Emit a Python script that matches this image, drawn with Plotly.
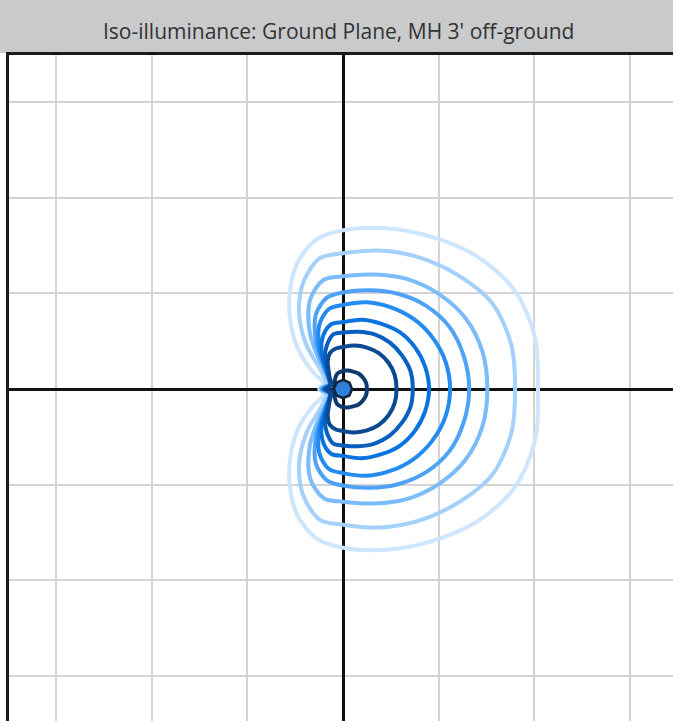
import numpy as np
import plotly.graph_objects as go

TITLE = "Iso-illuminance: Ground Plane, MH 3' off-ground"

# Polar sampling angles (degrees) for the upper half; lower half is the mirror image
ANGLES = [0, 15, 30, 45, 60, 75, 90, 100, 110, 120, 130, 140, 150, 160, 170, 180]
OCT_ANGLES = [0, 45, 90, 135, 180]

# Contour radii in feet (grid = 10 ft), outer -> inner
C10 = [20.4, 20.8, 20.7, 19.7, 18.4, 17.4, 16.6, 15.9, 14.0, 11.2, 8.4, 5.9, 3.7, 2.3, 2.1, 2.5]
C9 = [18.0, 18.2, 18.0, 16.9, 15.9, 15.0, 14.2, 13.9, 12.0, 9.2, 5.9, 3.0, 2.2, 1.8, 2.0, 2.4]
C8 = [15.1, 15.1, 14.8, 14.1, 13.3, 12.4, 11.8, 11.6, 10.0, 7.0, 3.8, 2.1, 1.7, 1.5, 1.8, 2.3]
C7 = [13.2, 13.1, 12.9, 12.3, 11.5, 10.7, 10.1, 9.7, 8.3, 5.6, 3.1, 2.0, 1.6, 1.3, 1.6, 2.2]
C6 = [11.2, 11.1, 10.8, 10.4, 9.9, 9.4, 8.8, 8.5, 7.2, 5.0, 3.0, 2.1, 1.5, 1.3, 1.6, 2.1]
C5 = [9.0, 8.9, 8.7, 8.4, 7.9, 7.5, 7.0, 6.9, 6.0, 4.5, 2.7, 1.9, 1.5, 1.3, 1.5, 2.0]
C4 = [7.3, 7.3, 7.1, 6.9, 6.6, 6.2, 5.9, 5.8, 4.9, 3.8, 2.5, 1.9, 1.6, 1.4, 1.5, 1.9]
C3 = [5.6, 5.6, 5.5, 5.3, 5.0, 4.7, 4.4, 4.3, 4.0, 3.2, 2.3, 1.8, 1.5, 1.4, 1.5, 1.8]
C2 = [2.5, 2.5, 2.4, 2.3, 2.1, 2.0, 1.9, 1.8, 1.7, 1.5, 1.3, 1.2, 1.0, 1.0, 1.0, 1.0]
C1 = [0.95, 0.95, 0.95, 0.95, 0.95]

CONTOURS = [C10, C9, C8, C7, C6, C5, C4, C3, C2]
COLORS = ["#cde5fd", "#a4d0fc", "#7bbcfa", "#4fa3f6", "#248bf0", "#0a73e0", "#085fc0", "#0b4a92", "#0d3a70"]
GRID_TICKS = [-30, -20, -10, 0, 10, 20, 30]


def closed_xy(angles, radii):
    th = list(angles) + [360 - a for a in reversed(angles[:-1])]
    rr = list(radii) + list(reversed(radii[:-1]))
    th = np.radians(np.array(th, dtype=float))
    rr = np.array(rr, dtype=float)
    return rr * np.cos(th), rr * np.sin(th)


fig = go.Figure()

for radii, col in zip(CONTOURS, COLORS):
    x, y = closed_xy(ANGLES, radii)
    fig.add_trace(go.Scatter(x=x, y=y, mode="lines",
                             line=dict(color=col, width=4, shape="spline", smoothing=0.9),
                             hoverinfo="skip", showlegend=False))

x1, y1 = closed_xy(OCT_ANGLES, C1)
fig.add_trace(go.Scatter(x=x1, y=y1, mode="lines", fill="toself", fillcolor="#2f80dc",
                         line=dict(color="#14233a", width=2.5),
                         hoverinfo="skip", showlegend=False))

W, H = 673, 721
ML, MT = 9, 55
pw, ph = W - ML, H - MT
ppf = 9.56  # pixels per foot
x0 = 343 - ML
y0 = 389 - MT

fig.update_layout(
    width=W, height=H,
    margin=dict(l=ML, r=0, t=MT, b=0),
    paper_bgcolor="white", plot_bgcolor="white",
    xaxis=dict(range=[-x0 / ppf, (pw - x0) / ppf], tickvals=GRID_TICKS, showticklabels=False,
               ticks="", showgrid=True, gridcolor="#d4d4d4", gridwidth=2,
               zeroline=True, zerolinecolor="#111111", zerolinewidth=2.5,
               showline=True, linecolor="#1a1a1a", linewidth=3, side="top", mirror=False),
    yaxis=dict(range=[-(ph - y0) / ppf, y0 / ppf], tickvals=GRID_TICKS, showticklabels=False,
               ticks="", showgrid=True, gridcolor="#d4d4d4", gridwidth=2,
               zeroline=True, zerolinecolor="#111111", zerolinewidth=2.5,
               showline=True, linecolor="#1a1a1a", linewidth=3, side="left", mirror=False),
    shapes=[dict(type="rect", xref="paper", yref="paper",
                 x0=-ML / pw, x1=1.0, y0=1 + 2 / ph, y1=1 + MT / ph,
                 fillcolor="#c9cacc", line=dict(width=0), layer="below")],
    annotations=[dict(text=TITLE, xref="paper", yref="paper", x=0.4955, y=1 + (MT - 31) / ph,
                      xanchor="center", yanchor="middle", showarrow=False,
                      font=dict(family="Open Sans, sans-serif", size=21, color="#333333"))],
)

fig.write_html("out.html", config={"displayModeBar": False},
               post_script="document.body.style.margin='0';document.body.style.overflow='hidden';")
